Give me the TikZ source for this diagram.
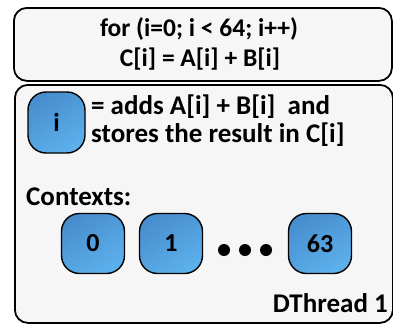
\documentclass[tikz,border=0pt]{standalone}
\usepackage{fontspec}
\setmainfont{Carlito}
\begin{document}
\begin{tikzpicture}[x=1pt,y=-1pt,
  outerbox/.style={draw=black, line width=1.8pt, fill=gray!7, rounded corners=13pt},
  ctx/.style={draw=black, line width=1.4pt, rounded corners=18pt, top color=blueA, bottom color=blueB,
     shading angle=30, minimum width=63pt, minimum height=60pt, inner sep=0pt,
     font=\fontsize{26}{30}\selectfont\bfseries},
  txt/.style={font=\fontsize{25.5}{30}\selectfont\bfseries, inner sep=0pt},
  ltxt/.style={font=\fontsize{27}{32}\selectfont\bfseries, inner sep=0pt},
  dot/.style={circle, fill=black, minimum size=12pt, inner sep=0pt}]
\definecolor{blueA}{RGB}{72,142,206}
\definecolor{blueB}{RGB}{92,176,236}
\useasboundingbox (0,0) rectangle (393,324);
\node[outerbox, minimum width=378pt, minimum height=73pt, anchor=north west] (top) at (13,7) {};
\node[outerbox, minimum width=378pt, minimum height=238pt, anchor=north west] (bottom) at (14,84) {};
\node[txt] (l1) at (199,29) {for (i=0; i < 64; i++)};
\node[txt] (l2) at (200,59) {C[i] = A[i] + B[i]};
\node[ctx, minimum width=57pt, minimum height=61pt] (ib) at (56.5,122.5) {i};
\node[ltxt, anchor=base west] (d1) at (91,114) {= adds A[i] + B[i]\ \ and};
\node[ltxt, anchor=base west] (d2) at (91,142) {stores the result in C[i]};
\node[ltxt, anchor=base west] (cx) at (26,205) {Contexts:};
\node[ctx] (c0) at (93,243.5) {0};
\node[ctx] (c1) at (171,243.5) {1};
\node[dot] (p1) at (224,250) {};
\node[dot] (p2) at (245,250) {};
\node[dot] (p3) at (266,250) {};
\node[ctx] (c63) at (320,243.5) {63};
\node[ltxt, anchor=base east] (dt) at (388,312) {DThread 1};
\end{tikzpicture}
\end{document}
